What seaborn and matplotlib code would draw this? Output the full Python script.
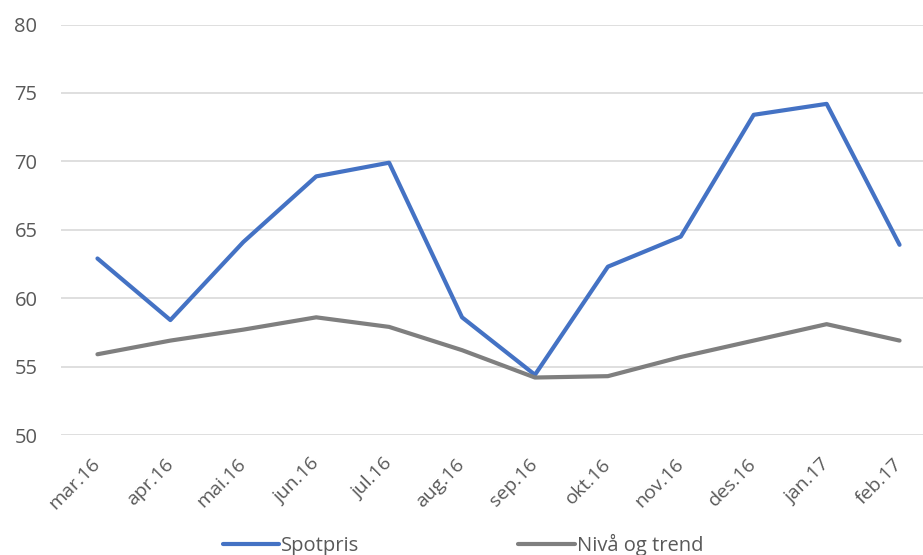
import matplotlib
matplotlib.use("Agg")
import matplotlib.pyplot as plt
import seaborn as sns
import pandas as pd
from matplotlib.transforms import ScaledTranslation

months = ["mar.16", "apr.16", "mai.16", "jun.16", "jul.16", "aug.16",
          "sep.16", "okt.16", "nov.16", "des.16", "jan.17", "feb.17"]
spotpris = [62.9, 58.4, 64.1, 68.9, 69.9, 58.6, 54.4, 62.3, 64.5, 73.4, 74.2, 63.9]
niva_trend = [55.9, 56.9, 57.7, 58.6, 57.9, 56.2, 54.2, 54.3, 55.7, 56.9, 58.1, 56.9]
y_ticks = [50, 55, 60, 65, 70, 75, 80]

series_names = ["Spotpris", "Nivå og trend"]
colors = {"Spotpris": "#4472C4", "Nivå og trend": "#7F7F7F"}

df = pd.DataFrame({
    "x": list(range(len(months))) * 2,
    "verdi": spotpris + niva_trend,
    "serie": [series_names[0]] * len(months) + [series_names[1]] * len(months),
})

sns.set_theme(style="white")
plt.rcParams["font.family"] = ["Open Sans", "DejaVu Sans"]
text_color = "#595959"

fig = plt.figure(figsize=(9.23, 5.55), dpi=100)
ax = fig.add_axes([61 / 923, 1 - 435 / 555, 875 / 923, (435 - 24.5) / 555])

sns.lineplot(data=df, x="x", y="verdi", hue="serie", palette=colors,
             linewidth=3.0, ax=ax, legend=False, sort=False)

ax.set_xlim(-0.5, len(months) - 0.5)
ax.set_ylim(50, 80)
ax.set_yticks(y_ticks)
ax.set_yticklabels([str(t) for t in y_ticks], fontsize=14.5, color=text_color)
ax.set_xticks(range(len(months)))
ax.set_xticklabels(months, rotation=45, ha="right", va="center",
                   rotation_mode="anchor", fontsize=14, color=text_color)
# nudge the rotated labels slightly right so their ends sit under the ticks
for lbl in ax.get_xticklabels():
    lbl.set_transform(lbl.get_transform() + ScaledTranslation(5 / 100, -3 / 100, fig.dpi_scale_trans))
ax.tick_params(axis="both", length=0)
ax.tick_params(axis="y", pad=17)
ax.tick_params(axis="x", pad=19)
ax.yaxis.grid(True, color="#D9D9D9", linewidth=1.2)
ax.set_axisbelow(True)
for s in ax.spines.values():
    s.set_visible(False)
ax.set_xlabel("")
ax.set_ylabel("")

handles = [plt.Line2D([], [], color=colors[n], linewidth=3.0) for n in series_names]
leg = fig.legend(handles, series_names, loc="center", ncol=2,
                 bbox_to_anchor=(463 / 923, 1 - 545 / 555), frameon=False,
                 fontsize=14.5, handlelength=2.8, handletextpad=0.1,
                 columnspacing=7.9)
for t in leg.get_texts():
    t.set_color(text_color)

fig.savefig("out.png", dpi=100)
